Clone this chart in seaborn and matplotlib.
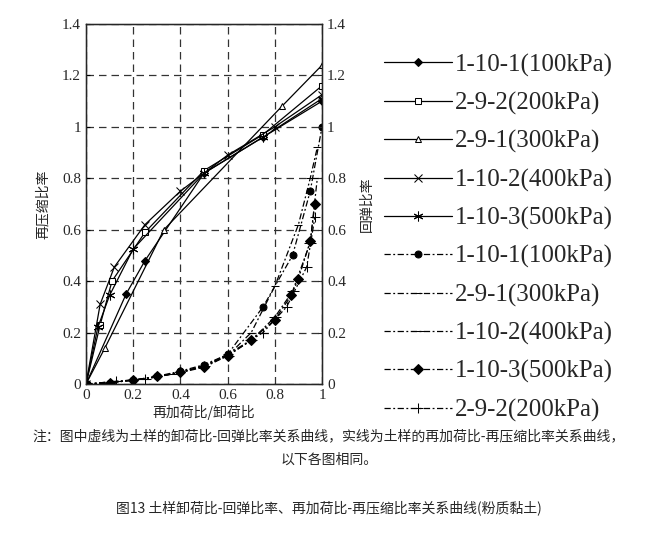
import matplotlib
matplotlib.use("Agg")
import matplotlib.pyplot as plt
import seaborn as sns
from matplotlib.ticker import FuncFormatter

# reloading ratio vs recompression ratio (solid lines)
x_101 = [0, 0.17, 0.25, 0.5, 0.75, 1.0]
y_101 = [0, 0.35, 0.48, 0.82, 0.96, 1.10]
x_292 = [0, 0.06, 0.11, 0.25, 0.5, 0.75, 1.0]
y_292 = [0, 0.23, 0.40, 0.59, 0.83, 0.97, 1.16]
x_291 = [0, 0.08, 0.33, 0.83, 1.0]
y_291 = [0, 0.14, 0.60, 1.08, 1.24]
x_102 = [0, 0.06, 0.12, 0.25, 0.4, 0.6, 0.8, 1.0]
y_102 = [0, 0.31, 0.455, 0.62, 0.75, 0.89, 1.0, 1.125]
x_103 = [0, 0.05, 0.1, 0.2, 0.5, 0.75, 1.0]
y_103 = [0, 0.22, 0.345, 0.525, 0.82, 0.96, 1.11]

# unloading ratio vs rebound ratio (dash-dot lines)
ux_101 = [0, 0.1, 0.2, 0.3, 0.4, 0.5, 0.6, 0.75, 0.875, 0.95, 1.0]
uy_101 = [0, 0.005, 0.015, 0.03, 0.05, 0.075, 0.115, 0.30, 0.50, 0.75, 1.0]
ux_291 = [0, 0.1, 0.25, 0.4, 0.5, 0.6, 0.7, 0.8, 0.9, 0.95, 0.98]
uy_291 = [0, 0.005, 0.02, 0.045, 0.07, 0.11, 0.2, 0.38, 0.62, 0.80, 0.92]
ux_102 = [0, 0.125, 0.25, 0.375, 0.5, 0.6, 0.7, 0.8, 0.875, 0.95, 0.98]
uy_102 = [0, 0.01, 0.02, 0.04, 0.07, 0.11, 0.17, 0.26, 0.36, 0.55, 0.8]
ux_103 = [0, 0.1, 0.2, 0.3, 0.4, 0.5, 0.6, 0.7, 0.8, 0.87, 0.9, 0.95, 0.97]
uy_103 = [0, 0.005, 0.015, 0.03, 0.045, 0.065, 0.11, 0.17, 0.25, 0.345, 0.41, 0.555, 0.70]
ux_292 = [0, 0.125, 0.25, 0.4, 0.5, 0.6, 0.75, 0.85, 0.935, 0.97]
uy_292 = [0, 0.01, 0.02, 0.045, 0.07, 0.115, 0.2, 0.3, 0.455, 0.65]

labels = ["1-10-1(100kPa)", "2-9-2(200kPa)", "2-9-1(300kPa)", "1-10-2(400kPa)",
          "1-10-3(500kPa)", "1-10-1(100kPa)", "2-9-1(300kPa)", "1-10-2(400kPa)",
          "1-10-3(500kPa)", "2-9-2(200kPa)"]
ticks = [0, 0.2, 0.4, 0.6, 0.8, 1.0, 1.2, 1.4]

note = "注：图中虚线为土样的卸荷比-回弹比率关系曲线，实线为土样的再加荷比-再压缩比率关系曲线，"
note2 = "以下各图相同。"
title = "图13 土样卸荷比-回弹比率、再加荷比-再压缩比率关系曲线(粉质黏土)"

sns.set_style("white")
plt.rcParams["font.family"] = ["Liberation Serif", "Noto Sans CJK SC"]
plt.rcParams["axes.unicode_minus"] = False

fig = plt.figure(figsize=(6.58, 5.38), dpi=100)
ax = fig.add_axes([0.1307, 0.2862, 0.3587, 0.6692])

dd = (0, (5, 2, 1.5, 2))
series = [
    (x_101, y_101, "D", "-", 4, "k"),
    (x_292, y_292, "s", "-", 4, "white"),
    (x_291, y_291, "^", "-", 5, "white"),
    (x_102, y_102, "x", "-", 6, "k"),
    (x_103, y_103, (6, 2, 0), "-", 7, "k"),
    (ux_101, uy_101, "o", dd, 5, "k"),
    (ux_291, uy_291, "_", dd, 6, "k"),
    (ux_102, uy_102, "_", dd, 8, "k"),
    (ux_103, uy_103, "D", dd, 5, "k"),
    (ux_292, uy_292, "+", dd, 7, "k"),
]
for (xs, ys, m, ls, ms, fc), lab in zip(series, labels):
    sns.lineplot(x=xs, y=ys, ax=ax, color="k", marker=m, markersize=ms,
                 markerfacecolor=fc, markeredgecolor="k", linestyle=ls,
                 linewidth=0.9, sort=False, estimator=None, label=lab)

ax.set_xlim(0, 1)
ax.set_ylim(0, 1.4)
ax.set_xticks([0, 0.2, 0.4, 0.6, 0.8, 1.0])
ax.set_yticks(ticks)
fmt = FuncFormatter(lambda v, p: f"{v:g}")
ax.xaxis.set_major_formatter(fmt)
ax.yaxis.set_major_formatter(fmt)
ax.grid(True, linestyle=(0, (6, 4)), color="#333333", linewidth=0.9)
for s in ax.spines.values():
    s.set_color("k")
    s.set_linewidth(1.0)
ax.tick_params(direction="in", length=3, labelsize=11, color="k")
ax.set_xlabel("再加荷比/卸荷比", fontsize=10, family=["Noto Sans CJK SC"], labelpad=2)
ax.set_ylabel("再压缩比率", fontsize=10, family=["Noto Sans CJK SC"], labelpad=9)

ax2 = ax.twinx()
ax2.set_ylim(0, 1.4)
ax2.set_yticks(ticks)
ax2.yaxis.set_major_formatter(fmt)
ax2.tick_params(direction="in", length=3, labelsize=11)
ax2.set_ylabel("回弹比率", fontsize=10, family=["Noto Sans CJK SC"], rotation=90,
               labelpad=10)

handles, labs = ax.get_legend_handles_labels()
ax.get_legend().remove()
fig.legend(handles, labs, loc="upper left", bbox_to_anchor=(0.569, 0.919),
           frameon=False, fontsize=18, handlelength=2.7, handletextpad=0.1,
           labelspacing=0.61, borderaxespad=0)

fig.text(0.5, 0.182, note, ha="center", fontsize=10, family=["Noto Sans CJK SC"])
fig.text(0.5, 0.138, note2, ha="center", fontsize=10, family=["Noto Sans CJK SC"])
fig.text(0.5, 0.048, title, ha="center", fontsize=10, family=["Noto Sans CJK SC"])

fig.savefig("out.png", dpi=100, facecolor="white")
